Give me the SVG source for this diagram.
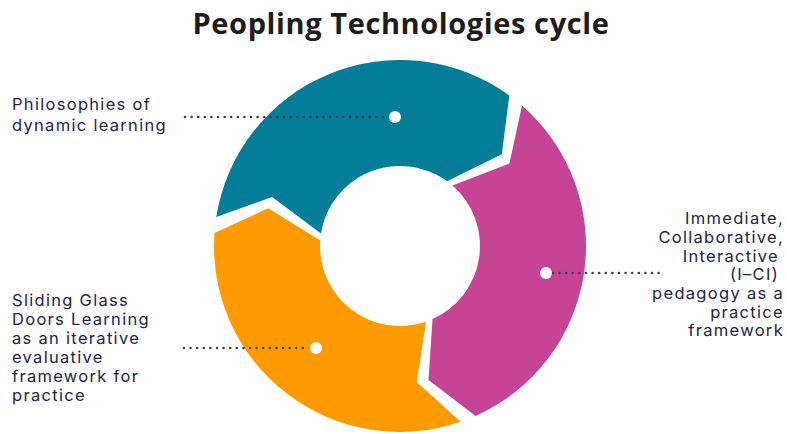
<svg xmlns="http://www.w3.org/2000/svg" width="787" height="434" viewBox="0 0 787 434">
  <style>
    .title { font-family: "Open Sans", "Liberation Sans", sans-serif; font-weight: 700; font-size: 29px; letter-spacing: 0.6px; fill: #1c1c1c; }
    .label { font-family: "Inter", "Liberation Sans", sans-serif; font-size: 16.5px; letter-spacing: 1.3px; fill: #24244a; }
    .dot { fill: #ffffff; }
    .leader { fill: none; stroke: #3f3f48; stroke-width: 2.6; stroke-linecap: round; stroke-dasharray: 0 6.6; }
  </style>
  <rect width="787" height="434" fill="#ffffff"/>

  <text class="title" x="401" y="34" text-anchor="middle">Peopling Technologies cycle</text>

  <!-- cycle arrows, centre (400,246), outer r 186, inner r 80 -->
  <g id="philosophies">
    <path fill="#047e98" d="M216.29,216.90 A186,186 0 0 1 509.33,95.52 L501.81,154.33 L447.02,181.28 A80,80 0 0 0 320.98,233.49 L272.10,196.90 Z"/>
    <circle class="dot" cx="395" cy="117" r="6"/>
    <text class="label" x="12" y="110">Philosophies of</text>
    <text class="label" x="12" y="131">dynamic learning</text>
  </g>

  <g id="ici-pedagogy">
    <path fill="#c54496" d="M522.03,105.62 A186,186 0 0 1 475.65,415.92 L428.48,380.01 L432.54,319.08 A80,80 0 0 0 452.48,185.62 L509.41,163.55 Z"/>
    <circle class="dot" cx="546" cy="273" r="6"/>
    <g text-anchor="end">
      <text class="label" x="784" y="224">Immediate,</text>
      <text class="label" x="784" y="243">Collaborative,</text>
      <text class="label" x="779" y="261.5">Interactive</text>
      <text class="label" x="779" y="280">(I–CI)</text>
      <text class="label" x="784" y="299">pedagogy as a</text>
      <text class="label" x="784" y="317.5">practice</text>
      <text class="label" x="784" y="336">framework</text>
    </g>
  </g>

  <g id="sliding-glass-doors">
    <path fill="#ff9a00" d="M460.56,421.87 A186,186 0 0 1 214.45,233.02 L268.31,208.24 L320.20,240.42 A80,80 0 0 0 426.05,321.64 L416.70,381.98 Z"/>
    <circle class="dot" cx="316" cy="348" r="6"/>
    <text class="label" x="12" y="306">Sliding Glass</text>
    <text class="label" x="12" y="325">Doors Learning</text>
    <text class="label" x="12" y="344">as an iterative</text>
    <text class="label" x="12" y="363">evaluative</text>
    <text class="label" x="12" y="382">framework for</text>
    <text class="label" x="12" y="401">practice</text>
  </g>

  <g id="connectors">
    <path class="leader" d="M185,117 H388"/>
    <path class="leader" d="M184,348 H309"/>
    <path class="leader" d="M553,273 H663"/>
  </g>
</svg>
